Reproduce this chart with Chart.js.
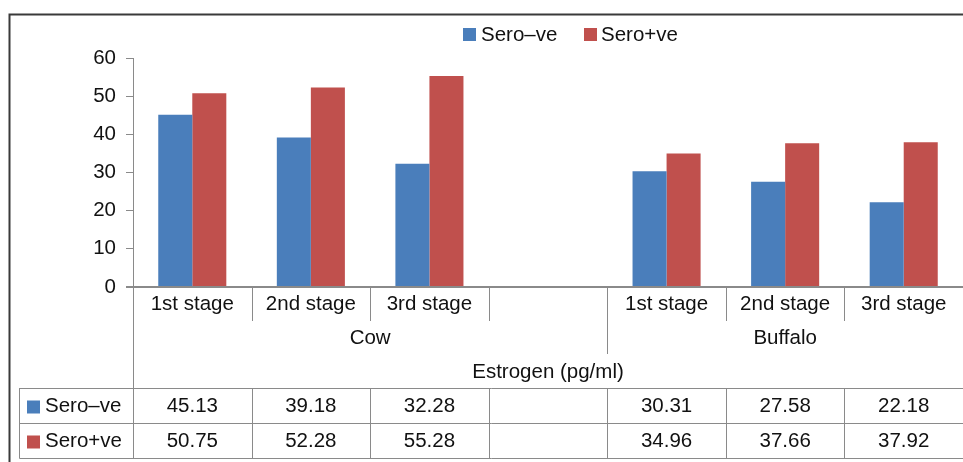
<!DOCTYPE html>
<html>
<head>
<meta charset="utf-8">
<title>Estrogen (pg/ml)</title>
<script src="https://cdn.jsdelivr.net/npm/chart.js@4/dist/chart.umd.min.js"></script>
<style>
  html, body { margin: 0; padding: 0; background: #fff; }
  canvas { display: block; }
</style>
</head>
<body>
<canvas id="chart" width="963" height="462"></canvas>
<script>
// Stage labels along the category axis (blank slot separates the two animals)
const categories = ['1st stage', '2nd stage', '3rd stage', '', '1st stage', '2nd stage', '3rd stage'];
// Second-level grouping: label and number of categories it spans
const groupLabels = ['Cow', 'Buffalo'];
const groupSpans = [4, 3];
const axisTitle = 'Estrogen (pg/ml)';
const seriesNames = ['Sero\u2013ve', 'Sero+ve'];
const seroNeg = [45.13, 39.18, 32.28, null, 30.31, 27.58, 22.18];
const seroPos = [50.75, 52.28, 55.28, null, 34.96, 37.66, 37.92];
const yTicks = [0, 10, 20, 30, 40, 50, 60];

const COLORS = ['#4A7EBB', '#C0504D'];
const LINE = '#8a8a8a';
const FONT_FAMILY = '"Liberation Sans", Arial, sans-serif';
const FONT_SIZE = 20.5;
const FONT = FONT_SIZE + 'px ' + FONT_FAMILY;
const TEXT = '#111';

// Draws the frame, legend, multi-level category labels and data table
const tablePlugin = {
  id: 'tablePlugin',
  afterDraw(chart) {
    const ctx = chart.ctx;
    const area = chart.chartArea;
    const yScale = chart.scales.y;
    const xScale = chart.scales.x;
    const n = categories.length;
    const step = (area.right - area.left) / n;
    const base = Math.round(yScale.getPixelForValue(0));
    const labelRowBottom = base + 34;
    const groupRowBottom = base + 67;
    const tableTop = base + 101;
    const rowH = 35;
    const tableLeft = 19.5;
    const W = chart.width, H = chart.height;
    const edge = i => Math.round(area.left + step * i) + 0.5;

    ctx.save();

    // outer frame
    ctx.strokeStyle = '#3a3a3a';
    ctx.lineWidth = 2;
    ctx.beginPath();
    ctx.moveTo(9.5, H + 2);
    ctx.lineTo(9.5, 14.5);
    ctx.lineTo(W + 2, 14.5);
    ctx.stroke();

    // baseline
    ctx.strokeStyle = LINE;
    ctx.lineWidth = 2;
    ctx.beginPath();
    ctx.moveTo(area.left - 7, base);
    ctx.lineTo(area.right, base);
    ctx.stroke();

    ctx.lineWidth = 1;
    ctx.beginPath();
    // axis line continued down to the table
    ctx.moveTo(edge(0), base);
    ctx.lineTo(edge(0), tableTop);
    // category separators
    for (let i = 1; i < n; i++) {
      ctx.moveTo(edge(i), base);
      ctx.lineTo(edge(i), labelRowBottom);
    }
    // group separators
    let acc = 0;
    for (let g = 0; g < groupSpans.length - 1; g++) {
      acc += groupSpans[g];
      ctx.moveTo(edge(acc), labelRowBottom);
      ctx.lineTo(edge(acc), groupRowBottom);
    }
    // table grid
    for (let r = 0; r <= seriesNames.length; r++) {
      const yy = tableTop + rowH * r + 0.5;
      ctx.moveTo(tableLeft, yy);
      ctx.lineTo(W, yy);
    }
    const tableBottom = tableTop + rowH * seriesNames.length + 0.5;
    ctx.moveTo(tableLeft, tableTop);
    ctx.lineTo(tableLeft, tableBottom);
    for (let i = 0; i < n; i++) {
      ctx.moveTo(edge(i), tableTop);
      ctx.lineTo(edge(i), tableBottom);
    }
    ctx.stroke();

    // text
    ctx.font = FONT;
    ctx.fillStyle = TEXT;
    ctx.textAlign = 'center';
    ctx.textBaseline = 'middle';
    for (let i = 0; i < n; i++) {
      const cx = xScale.getPixelForValue(i);
      ctx.fillText(categories[i], cx, base + 17);
    }
    acc = 0;
    for (let g = 0; g < groupSpans.length; g++) {
      const l = area.left + step * acc;
      acc += groupSpans[g];
      const r = area.left + step * acc;
      ctx.fillText(groupLabels[g], (l + r) / 2, base + 51);
    }
    ctx.fillText(axisTitle, (area.left + area.right) / 2, base + 85);

    // table rows
    const series = [seroNeg, seroPos];
    for (let s = 0; s < series.length; s++) {
      const cy = tableTop + rowH * s + rowH / 2 + 1;
      ctx.fillStyle = COLORS[s];
      ctx.fillRect(27, cy - 6, 13, 13);
      ctx.fillStyle = TEXT;
      ctx.textAlign = 'left';
      ctx.fillText(seriesNames[s], 45, cy);
      ctx.textAlign = 'center';
      for (let i = 0; i < n; i++) {
        const v = series[s][i];
        if (v !== null) ctx.fillText(v.toFixed(2), xScale.getPixelForValue(i), cy);
      }
    }

    // legend
    const legendY = 34;
    const items = [[463, 481], [584, 601]];
    ctx.textAlign = 'left';
    for (let s = 0; s < seriesNames.length; s++) {
      ctx.fillStyle = COLORS[s];
      ctx.fillRect(items[s][0], legendY - 6, 13, 13);
      ctx.fillStyle = TEXT;
      ctx.fillText(seriesNames[s], items[s][1], legendY + 1);
    }

    ctx.restore();
  }
};

new Chart(document.getElementById('chart'), {
  type: 'bar',
  data: {
    labels: categories,
    datasets: [
      { label: seriesNames[0], data: seroNeg, backgroundColor: COLORS[0] },
      { label: seriesNames[1], data: seroPos, backgroundColor: COLORS[1] }
    ]
  },
  options: {
    responsive: false,
    devicePixelRatio: 1,
    animation: false,
    layout: { padding: { left: 0, right: 0, top: 58, bottom: 175 } },
    datasets: { bar: { categoryPercentage: 0.574, barPercentage: 1.0 } },
    plugins: { legend: { display: false }, tooltip: { enabled: false } },
    scales: {
      x: { type: 'category', display: false, offset: true },
      y: {
        min: 0, max: 60,
        afterFit(scale) { scale.width = 133; },
        afterBuildTicks(scale) { scale.ticks = yTicks.map(v => ({ value: v })); },
        ticks: { padding: 10, color: TEXT, font: { family: FONT_FAMILY, size: FONT_SIZE } },
        grid: { drawOnChartArea: false, drawTicks: true, tickLength: 7, color: LINE },
        border: { color: LINE, width: 1 }
      }
    }
  },
  plugins: [tablePlugin]
});
</script>
</body>
</html>
